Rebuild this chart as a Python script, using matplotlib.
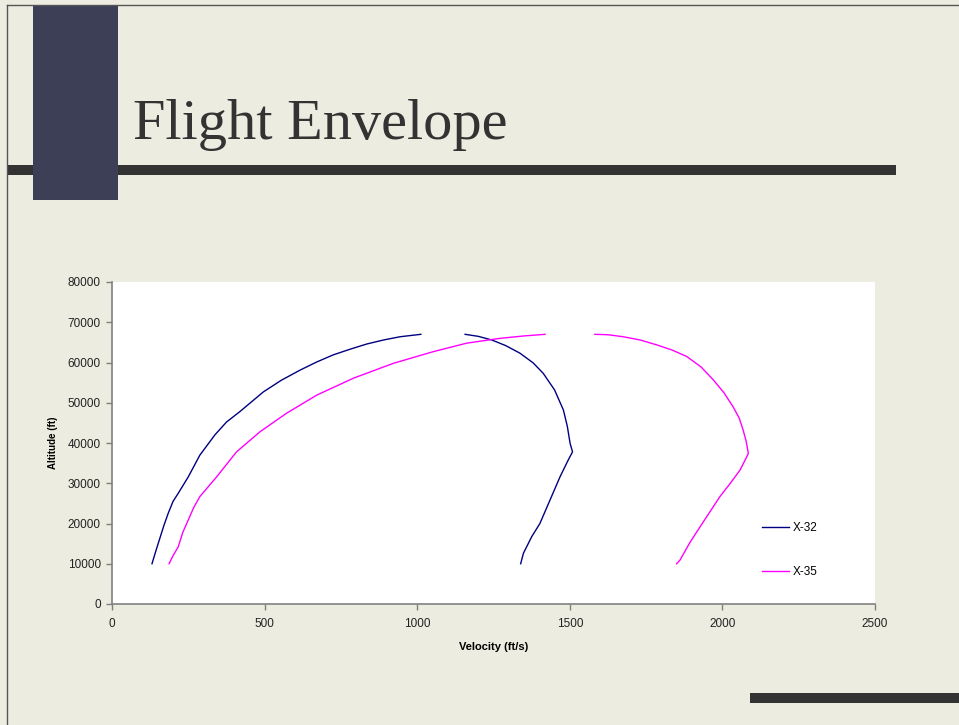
import matplotlib
matplotlib.use("Agg")
import matplotlib.pyplot as plt
from matplotlib.patches import Rectangle
from matplotlib.lines import Line2D

# Flight envelope boundaries: velocity (ft/s) vs altitude (ft)
x32_low_v = [131, 145, 155, 170, 184, 200, 217, 250, 288, 337, 375, 419, 496, 555, 616, 670, 725, 780, 835, 890, 944, 1012]
x32_low_alt = [10000, 13500, 15900, 19500, 22500, 25500, 27500, 31600, 37000, 42000, 45200, 47800, 52700, 55600, 58100, 60100, 61900, 63300, 64600, 65600, 66400, 67000]
x32_high_v = [1157, 1200, 1244, 1290, 1337, 1380, 1413, 1450, 1479, 1492, 1501, 1509, 1495, 1468, 1435, 1402, 1375, 1348, 1339]
x32_high_alt = [67000, 66500, 65600, 64200, 62300, 59900, 57300, 53200, 48200, 44100, 39900, 37800, 35800, 31600, 25800, 20000, 16700, 12600, 10000]

x35_low_v = [187, 200, 217, 232, 250, 268, 288, 343, 408, 485, 572, 671, 791, 922, 1053, 1162, 1271, 1350, 1419]
x35_low_alt = [10000, 12000, 14200, 17800, 20900, 24000, 26700, 31600, 37800, 42800, 47400, 51900, 56100, 59800, 62700, 64800, 66000, 66600, 67000]
x35_high_v = [1582, 1625, 1675, 1730, 1784, 1835, 1883, 1930, 1970, 2005, 2035, 2055, 2068, 2078, 2085, 2072, 2058, 2025, 1992, 1960, 1927, 1893, 1861, 1850]
x35_high_alt = [67000, 66900, 66400, 65600, 64400, 63100, 61500, 58900, 55700, 52500, 49000, 46200, 43200, 40400, 37400, 35400, 33300, 29900, 26700, 23000, 19200, 15200, 10900, 10000]

series_names = ["X-32", "X-35"]
series_colors = ["#000080", "#FF00FF"]

x_ticks = [0, 500, 1000, 1500, 2000, 2500]
y_ticks = [0, 10000, 20000, 30000, 40000, 50000, 60000, 70000, 80000]

W, H = 959, 725
fig = plt.figure(figsize=(W / 100, H / 100), dpi=100)
fig.patch.set_facecolor("#ECECE0")

# slide decoration in pixel coordinates
deco = fig.add_axes([0, 0, 1, 1])
deco.set_xlim(0, W)
deco.set_ylim(H, 0)
deco.axis("off")
deco.add_patch(Rectangle((8, 165), 888, 10, facecolor="#333333", edgecolor="none"))
deco.add_patch(Rectangle((33, 5), 85, 195, facecolor="#3C3F55", edgecolor="none"))
deco.add_patch(Rectangle((750, 693), 209, 10, facecolor="#333333", edgecolor="none"))
deco.plot([6.5, 6.5], [5, H], color="#555555", lw=1)
deco.plot([6.5, W], [5, 5], color="#555555", lw=1)
deco.text(133, 139, "Flight Envelope", fontsize=42, family="Liberation Serif",
          color="#333333", va="baseline", ha="left")

# chart area
ax_l, ax_r, ax_t, ax_b = 112, 875, 282, 604
ax = fig.add_axes([ax_l / W, 1 - ax_b / H, (ax_r - ax_l) / W, (ax_b - ax_t) / H])
ax.set_facecolor("white")

ax.plot(x32_low_v, x32_low_alt, color=series_colors[0], lw=1.0)
ax.plot(x32_high_v, x32_high_alt, color=series_colors[0], lw=1.0)
ax.plot(x35_low_v, x35_low_alt, color=series_colors[1], lw=1.0)
ax.plot(x35_high_v, x35_high_alt, color=series_colors[1], lw=1.0)

ax.set_xlim(0, 2500)
ax.set_ylim(0, 80000)
ax.set_xticks(x_ticks)
ax.set_yticks(y_ticks)
ax.set_xticklabels([str(t) for t in x_ticks])
ax.set_yticklabels([str(t) for t in y_ticks])
for s in ["top", "right"]:
    ax.spines[s].set_visible(False)
for s in ["left", "bottom"]:
    ax.spines[s].set_color("#808080")
    ax.spines[s].set_linewidth(1.2)
ax.tick_params(axis="both", direction="out", length=4, width=1, color="#808080",
               labelsize=8.5, labelcolor="#222222")
ax.tick_params(axis="x", pad=6)
ax.tick_params(axis="y", pad=4)
for lbl in ax.get_xticklabels() + ax.get_yticklabels():
    lbl.set_family("Liberation Sans")

ax.set_xlabel("Velocity (ft/s)", fontsize=8, fontweight="bold",
              family="Liberation Sans", labelpad=9)
ax.set_ylabel("Altitude (ft)", fontsize=7, fontweight="bold",
              family="Liberation Sans", labelpad=7)

handles = [Line2D([], [], color=c, lw=1.0) for c in series_colors]
ax.legend(handles, series_names, loc="upper left", bbox_to_anchor=(0.838, 0.288),
          frameon=False, handlelength=2.3, handletextpad=0.3,
          labelspacing=2.7, prop={"family": "Liberation Sans", "size": 8.5})

fig.savefig("out.png", dpi=100, facecolor=fig.get_facecolor())
